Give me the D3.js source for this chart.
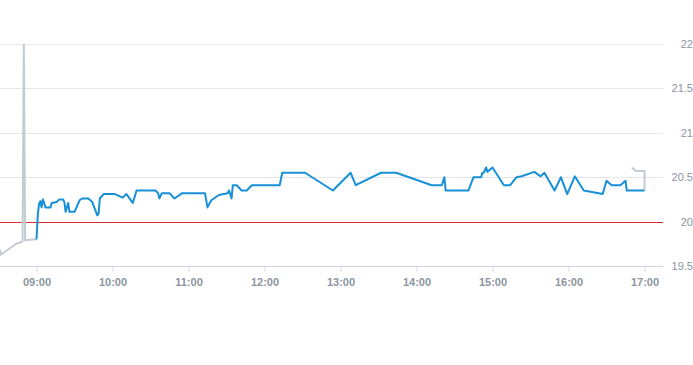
<!DOCTYPE html>
<html>
<head>
<meta charset="utf-8">
<script src="https://cdn.jsdelivr.net/npm/d3@7"></script>
<style>
  body { margin: 0; background: #fff; }
  svg { display: block; font-family: "Liberation Sans", Arial, sans-serif; }
</style>
</head>
<body>
<div id="chart"></div>
<script>
// gray series: before 09:00 and after 16:50
const grayTimes  = ["08:31", "08:32", "08:44", "08:48", "08:49", "08:50", "08:51", "09:00"];
const grayValues = [19.69, 19.63, 19.75, 19.77, 19.78, 22.0, 19.79, 19.80];
const grayEndTimes  = ["16:50", "16:53", "17:00", "17:00"];
const grayEndValues = [20.61, 20.57, 20.57, 20.35];

// blue series: 09:00 - 17:00
const blueTimes = [
  "09:00", "09:01", "09:02", "09:03", "09:04", "09:05", "09:06", "09:07", "09:11", "09:12",
  "09:16", "09:18", "09:21", "09:22", "09:23", "09:25", "09:26", "09:30", "09:34", "09:36",
  "09:41", "09:44", "09:48", "09:49", "09:50", "09:53", "10:02", "10:08", "10:11", "10:16",
  "10:19", "10:34", "10:36", "10:37", "10:39", "10:45", "10:49", "10:55", "11:13", "11:15",
  "11:18", "11:24", "11:31", "11:32", "11:34", "11:35", "11:38", "11:42", "11:46", "11:50",
  "12:12", "12:14", "12:32", "12:54", "13:08", "13:12", "13:32", "13:44", "14:12", "14:20",
  "14:22", "14:23", "14:41", "14:45", "14:51", "14:52", "14:53", "14:55", "14:56", "15:00",
  "15:09", "15:14", "15:19", "15:23", "15:33", "15:38", "15:41", "15:49", "15:54", "15:59",
  "16:05", "16:12", "16:27", "16:30", "16:34", "16:41", "16:45", "16:46", "17:00"
];
const blueValues = [
  19.80, 20.07, 20.20, 20.23, 20.16, 20.25, 20.21, 20.16, 20.16, 20.21,
  20.22, 20.25, 20.25, 20.22, 20.11, 20.21, 20.11, 20.11, 20.24, 20.26,
  20.26, 20.22, 20.07, 20.09, 20.26, 20.31, 20.31, 20.27, 20.31, 20.21,
  20.35, 20.35, 20.32, 20.26, 20.32, 20.32, 20.26, 20.32, 20.32, 20.16,
  20.24, 20.30, 20.32, 20.35, 20.26, 20.41, 20.41, 20.35, 20.35, 20.41,
  20.41, 20.55, 20.55, 20.35, 20.55, 20.41, 20.55, 20.55, 20.41, 20.41,
  20.50, 20.35, 20.35, 20.50, 20.50, 20.55, 20.55, 20.61, 20.56, 20.61,
  20.41, 20.41, 20.50, 20.51, 20.56, 20.51, 20.55, 20.35, 20.50, 20.31,
  20.51, 20.35, 20.31, 20.46, 20.41, 20.41, 20.46, 20.35, 20.35
];

const xTicks = ["09:00", "10:00", "11:00", "12:00", "13:00", "14:00", "15:00", "16:00", "17:00"];
const yTicks = [19.5, 20, 20.5, 21, 21.5, 22];
const limitValue = 20;

const width = 693, height = 365;
const parse = d3.timeParse("%H:%M");
const fmt = d3.timeFormat("%H:%M");

const x = d3.scaleTime()
  .domain([parse("08:30"), parse("17:15")])
  .range([-1.5, 663.5]);
const y = d3.scaleLinear().domain([19.5, 22]).range([266, 44]);

const svg = d3.select("#chart").append("svg")
  .attr("width", width)
  .attr("height", height);

svg.append("defs").append("clipPath").attr("id", "plot")
  .append("rect").attr("x", 0).attr("y", 40).attr("width", 663).attr("height", 230);

// gridlines
svg.append("g").selectAll("line")
  .data(yTicks.slice(1))
  .enter().append("line")
  .attr("x1", 0).attr("x2", 663)
  .attr("y1", d => Math.round(y(d)) + 0.5).attr("y2", d => Math.round(y(d)) + 0.5)
  .attr("stroke", "#e6e6e6");

// y labels on the right
svg.append("g").selectAll("text")
  .data(yTicks)
  .enter().append("text")
  .attr("x", 693)
  .attr("y", d => y(d) + 4)
  .attr("text-anchor", "end")
  .attr("font-size", 11)
  .attr("fill", "#8b95a1")
  .text(d => d);

// x axis
const xAxis = d3.axisBottom(x)
  .tickValues(xTicks.map(parse))
  .tickFormat(fmt)
  .tickSize(5)
  .tickPadding(7);
const gx = svg.append("g")
  .attr("transform", "translate(0," + (Math.round(y(19.5)) + 0.5) + ")")
  .call(xAxis);
gx.select(".domain").attr("d", "M0,0H663").attr("stroke", "#ccd6eb");
gx.selectAll(".tick line").attr("stroke", "#ccd6eb");
gx.selectAll(".tick text")
  .attr("font-size", 11)
  .attr("font-weight", "bold")
  .attr("font-family", "Liberation Sans, Arial, sans-serif")
  .attr("fill", "#8b95a1");

// limit line
svg.append("line")
  .attr("x1", 0).attr("x2", 663)
  .attr("y1", Math.round(y(limitValue)) + 0.5).attr("y2", Math.round(y(limitValue)) + 0.5)
  .attr("stroke", "#d32f2f")
  .attr("stroke-width", 1.2);

const line = d3.line()
  .x(d => x(d.t))
  .y(d => y(d.v));

function toPoints(times, values) {
  return times.map((t, i) => ({t: parse(t), v: values[i]}));
}

const plot = svg.append("g").attr("clip-path", "url(#plot)");

plot.append("path")
  .datum(toPoints(grayTimes, grayValues))
  .attr("d", line)
  .attr("fill", "none")
  .attr("stroke", "#c3cad1")
  .attr("stroke-width", 2);

plot.append("path")
  .datum(toPoints(grayEndTimes, grayEndValues))
  .attr("d", line)
  .attr("fill", "none")
  .attr("stroke", "#c3cad1")
  .attr("stroke-width", 2);

plot.append("path")
  .datum(toPoints(blueTimes, blueValues))
  .attr("d", line)
  .attr("fill", "none")
  .attr("stroke", "#1890d8")
  .attr("stroke-width", 2)
  .attr("stroke-linejoin", "round");
</script>
</body>
</html>
